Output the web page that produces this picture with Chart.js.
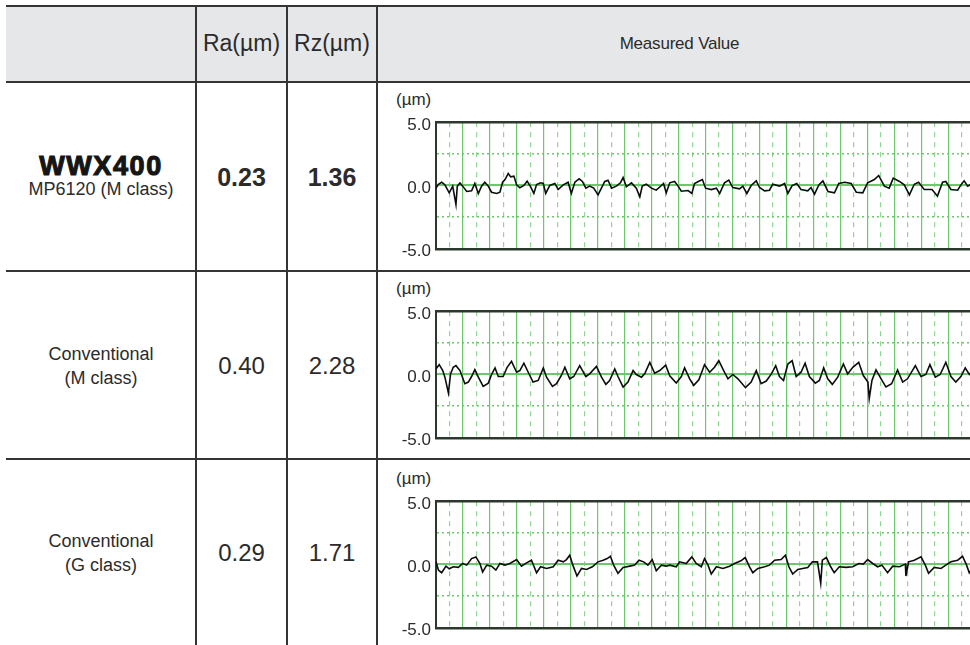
<!DOCTYPE html>
<html>
<head>
<meta charset="utf-8">
<script src="https://cdn.jsdelivr.net/npm/chart.js@4.4.1/dist/chart.umd.min.js"></script>
<style>
  html, body { margin:0; padding:0; background:#fff; }
  body { width:970px; height:645px; overflow:hidden; position:relative; font-family:"Liberation Sans", Arial, Helvetica, sans-serif; color:#2b2b2b; }
  .abs { position:absolute; }
  .hline { position:absolute; background:#353535; }
  .vline { position:absolute; background:#353535; width:2px; }
  .cell { position:absolute; display:flex; flex-direction:column; align-items:center; justify-content:center; text-align:center; }
  canvas { position:absolute; }
  .unit { position:absolute; font-size:17px; color:#2b2b2b; }
</style>
</head>
<body>
<script>
// ---------------- data ----------------
const headerLabels = ["", "Ra(\u00b5m)", "Rz(\u00b5m)", "Measured Value"];
const rowNames = ["WWX400", "Conventional", "Conventional"];
const rowSubNames = ["MP6120 (M class)", "(M class)", "(G class)"];
const raValues = ["0.23", "0.40", "0.29"];
const rzValues = ["1.36", "2.28", "1.71"];
const yTickLabels = [5, 0, -5];
const unitLabel = "(\u00b5m)";

// profile position (grid divisions) and height (µm)
const wwxPos = [0,0.09,0.21,0.33,0.49,0.62,0.74,0.79,0.89,0.99,
  1.14,1.32,1.44,1.57,1.69,1.81,1.94,2.06,2.25,2.37,
  2.47,2.56,2.68,2.77,2.89,2.99,3.11,3.26,3.38,3.48,
  3.63,3.73,3.88,3.98,4.07,4.22,4.41,4.53,4.72,4.90,
  5.02,5.15,5.31,5.43,5.56,5.70,5.85,6.01,6.14,6.26,
  6.38,6.51,6.69,6.84,6.94,7.06,7.25,7.43,7.56,7.65,
  7.80,7.99,8.17,8.36,8.44,8.54,8.67,8.85,8.98,9.10,
  9.35,9.49,9.59,9.75,9.88,10.0,10.21,10.40,10.52,10.70,
  10.86,11.01,11.26,11.38,11.53,11.69,11.88,12.0,12.19,12.37,
  12.49,12.74,12.93,13.05,13.21,13.38,13.54,13.79,13.91,14.04,
  14.20,14.35,14.54,14.78,14.94,15.16,15.40,15.59,15.83,16.01,
  16.26,16.42,16.63,16.81,16.96,17.19,17.37,17.56,17.74,17.90,
  18.11,18.40,18.60,18.79,18.91,19.10,19.35,19.47,19.59,19.72,
  19.85];
const wwxVal = [-0.2,0.1,0.26,0.05,-0.58,-0.05,-1.5,-0.05,0.2,-0.05,
  -0.47,-0.42,0.16,-0.63,-0.05,0.26,-0.05,-0.53,-0.63,-0.53,
  0.26,0.47,0.95,0.68,0.74,0.05,-0.18,0,0.34,0,
  -0.63,0.08,0.21,0.16,-0.63,0,0.16,-0.32,0.05,0.26,
  -0.63,0.26,0.53,0.32,-0.21,-0.05,-0.21,-0.74,-0.18,0.32,
  0.42,-0.21,-0.05,0.21,0.63,-0.1,0.21,-0.21,-0.89,-0.05,
  0.1,-0.21,-0.37,0,0.16,-0.58,0.21,0.32,-0.05,-0.45,
  -0.4,-0.63,0.16,0.34,0.47,-0.21,-0.32,-0.21,-0.63,0.21,
  0.42,-0.16,-0.26,-0.05,-0.63,0,0.37,-0.16,-0.42,-0.37,
  0.1,-0.05,0.16,-0.63,0,0.16,-0.32,-0.42,-0.16,-0.68,
  0.05,0.37,-0.47,-0.58,0.16,0.26,0.16,-0.53,-0.58,0.21,
  0.47,0.79,-0.05,-0.21,0.58,0.32,0.05,-0.74,0.1,0.26,
  -0.32,-0.32,-0.84,0.26,0.32,-0.32,-0.37,0.05,0.37,-0.05,
  0.1];

const convMPos = [0,0.12,0.25,0.33,0.46,0.54,0.64,0.74,0.89,1.07,
  1.20,1.32,1.44,1.57,1.75,1.94,2.06,2.19,2.31,2.49,
  2.64,2.80,2.99,3.11,3.26,3.42,3.60,3.79,3.98,4.10,
  4.32,4.47,4.65,4.78,4.96,5.11,5.33,5.56,5.70,5.95,
  6.14,6.30,6.44,6.63,6.75,6.94,7.12,7.31,7.43,7.62,
  7.74,7.93,8.11,8.30,8.52,8.67,8.91,9.10,9.22,9.41,
  9.56,9.75,9.96,10.15,10.33,10.49,10.67,10.83,11.01,11.20,
  11.48,11.69,11.88,12.06,12.25,12.44,12.60,12.74,12.89,13.05,
  13.21,13.36,13.54,13.69,13.85,14.07,14.22,14.38,14.53,14.70,
  14.90,15.11,15.27,15.46,15.68,15.85,16.02,16.07,16.17,16.32,
  16.51,16.69,16.90,17.12,17.31,17.49,17.78,17.99,18.17,18.32,
  18.52,18.70,18.91,19.10,19.28,19.47,19.63,19.78,19.90];
const convMVal = [0.44,0.78,0.31,-0.21,-1.46,0.05,0.57,0.70,0.31,-0.73,
  -0.6,-0.16,0.39,-0.21,-0.94,-0.68,0,0.52,-0.16,-0.16,
  0.57,1.04,0.18,0.31,0.89,0.18,-0.6,-0.47,0.52,-0.21,
  -0.94,-0.73,-0.08,0.57,-0.34,-0.16,0.70,-0.16,0.05,0.63,
  -0.21,-0.78,-0.47,0.44,-0.16,-0.99,-0.6,0.31,0,-0.21,
  0.05,0.96,0.1,0.31,0.74,-0.1,-0.68,-0.16,0.52,-0.34,
  -0.86,-0.42,0.78,0.18,0.57,1.09,0.31,-0.34,0,-0.34,
  -1.04,-0.6,0.31,-0.73,-0.52,0.05,0.70,-0.16,-0.47,0.83,
  1.09,-0.16,0.18,0.89,-0.16,-0.68,-0.47,0.52,-0.34,-0.78,
  -0.21,0.83,0.05,0.57,0.96,-0.08,-0.6,-1.9,-0.47,0.36,
  -0.34,-0.99,-0.73,0.36,-0.6,-0.34,0.70,-0.16,0,0.78,
  -0.21,0,0.96,-0.16,-0.6,-0.16,0.52,0,0.3];

const convGPos = [0,0.09,0.21,0.37,0.49,0.64,0.83,0.99,1.14,1.32,
  1.48,1.63,1.73,1.88,2.06,2.22,2.37,2.56,2.74,2.99,
  3.17,3.36,3.54,3.73,3.88,4.10,4.35,4.53,4.72,4.84,
  4.96,5.09,5.23,5.40,5.58,5.80,6.01,6.20,6.35,6.47,
  6.59,6.75,6.94,7.19,7.37,7.53,7.70,7.86,8.02,8.17,
  8.36,8.54,8.67,8.91,9.04,9.28,9.49,9.65,9.84,9.96,
  10.09,10.21,10.40,10.64,10.89,11.07,11.31,11.47,11.63,11.75,
  11.94,12.19,12.37,12.56,12.80,12.96,13.09,13.23,13.42,13.60,
  13.79,13.96,14.15,14.27,14.33,14.48,14.64,14.77,14.96,15.21,
  15.46,15.68,15.85,16.01,16.20,16.38,16.54,16.75,16.94,17.19,
  17.41,17.43,17.53,17.74,17.99,18.15,18.27,18.48,18.73,18.91,
  19.10,19.35,19.53,19.68,19.78,19.90];
const convGVal = [0.21,-0.44,-0.65,-0.13,-0.34,-0.18,-0.23,0.08,-0.05,0.47,
  0.6,0.08,-0.6,-0.05,-0.13,-0.44,0.08,-0.05,0.08,0.39,
  -0.13,0.13,0.34,-0.65,-0.18,-0.31,-0.18,0.34,0.21,0.39,
  0.73,-0.13,-0.91,-0.31,-0.39,-0.18,0.21,0.34,0.47,0.65,
  -0.05,-0.7,-0.23,-0.13,-0.05,0.34,0.21,-0.05,0.39,-0.49,
  -0.05,-0.13,-0.05,-0.18,0.21,0.08,0.6,0.08,-0.18,0.47,
  -0.05,-0.75,-0.18,-0.31,-0.13,0.08,0.29,0.55,-0.18,-0.65,
  -0.31,-0.18,-0.05,0.34,0.39,0.73,-0.18,-0.75,-0.39,-0.31,
  -0.23,0.21,0.21,-1.48,0.34,0.55,-0.18,-0.65,-0.18,-0.23,
  -0.18,0.08,0.03,0.39,0.08,-0.18,-0.05,-0.65,-0.13,-0.18,
  0.03,-0.91,0.21,0.34,0.6,-0.05,-0.7,-0.23,-0.31,-0.05,
  0.21,0.34,0.65,-0.05,-0.65,-0.3];

const profiles = [[wwxPos, wwxVal], [convMPos, convMVal], [convGPos, convGVal]];

// ---------------- layout ----------------
const FONT = '"Liberation Sans", Arial, Helvetica, sans-serif';
const colX = [6, 196, 287, 377, 982];
const rowY = [6, 82, 271, 459, 645];
const plotTop = [122, 311, 501];
const plotH = 127;

function add(el){ document.body.appendChild(el); return el; }
function div(cls, style, html){ const d=document.createElement('div'); d.className=cls; Object.assign(d.style, style); if(html!==undefined) d.innerHTML=html; return add(d); }

// header background
div('abs', {left:'6px', top:'6px', width:'964px', height:'76px', background:'#e6e7e8'});
// horizontal rules
div('hline', {left:'6px', top:'5px', width:'964px', height:'2px'});
div('hline', {left:'6px', top:'81px', width:'964px', height:'2px'});
div('hline', {left:'6px', top:'270px', width:'964px', height:'2px'});
div('hline', {left:'6px', top:'458px', width:'964px', height:'2px'});
// vertical rules
[196, 287, 377].forEach(x => div('vline', {left:(x-1)+'px', top:'5px', height:'640px'}));

// header texts
div('cell', {left:colX[1]+'px', top:'6px', width:(colX[2]-colX[1])+'px', height:'75px', fontSize:'23px'}, headerLabels[1]);
div('cell', {left:colX[2]+'px', top:'6px', width:(colX[3]-colX[2])+'px', height:'75px', fontSize:'23px'}, headerLabels[2]);
div('cell', {left:colX[3]+'px', top:'6px', width:(colX[4]-colX[3])+'px', height:'75px', fontSize:'17px', letterSpacing:'-0.2px'}, headerLabels[3]);

// row texts
for (let r=0; r<3; r++){
  const top = rowY[r+1]+1, h = rowY[r+2]-rowY[r+1]-1;
  let nameHtml;
  if (r===0){
    nameHtml = '<div style="font-family:\'Liberation Sans\',Arial,sans-serif;font-weight:900;font-size:27px;line-height:24px;color:#151515;letter-spacing:1.6px;-webkit-text-stroke:1.1px #151515">'+rowNames[r]+'</div>'+
               '<div style="font-size:18px;line-height:24px;margin-top:-1px">'+rowSubNames[r]+'</div>';
  } else {
    nameHtml = '<div style="font-size:18px;line-height:24px">'+rowNames[r]+'</div>'+
               '<div style="font-size:18px;line-height:24px">'+rowSubNames[r]+'</div>';
  }
  div('cell', {left:colX[0]+'px', top:top+'px', width:(colX[1]-colX[0])+'px', height:h+'px'}, nameHtml);
  const bold = r===0 ? 'bold' : 'normal';
  const fs = r===0 ? '25px' : '24px';
  div('cell', {left:colX[1]+'px', top:top+'px', width:(colX[2]-colX[1])+'px', height:h+'px', fontSize:fs, fontWeight:bold}, raValues[r]);
  div('cell', {left:colX[2]+'px', top:top+'px', width:(colX[3]-colX[2])+'px', height:h+'px', fontSize:fs, fontWeight:bold}, rzValues[r]);
  div('unit', {left:'396px', top:(plotTop[r]-32)+'px'}, unitLabel);
}

// ---------------- charts ----------------
const GREEN = '#6cc86c';
const GREEN_LIGHT = '#8fd78f';
const DARK = '#2c382c';

function isHalf(c){ return c.tick && Math.abs(c.tick.value - Math.round(c.tick.value)) > 1e-6; }

function makeChart(r){
  const cv = document.createElement('canvas');
  const padTop = 4, padBottom = 4;
  const w = 596, h = plotH + 40;
  cv.width = w; cv.height = h;
  cv.style.width = w + 'px'; cv.style.height = h + 'px';
  cv.style.left = '380px'; cv.style.top = (plotTop[r]-12)+'px';
  add(cv);
  const [xs, ys] = profiles[r];
  const data = xs.map((x,i)=>({x:x, y:ys[i]}));
  const chart = new Chart(cv, {
    type:'line',
    data:{ datasets:[{ data:data, borderColor:'#0c0c0c', borderWidth:1.6, pointRadius:0, tension:0, fill:false }] },
    options:{
      responsive:false, maintainAspectRatio:false, animation:false, devicePixelRatio:1,
      layout:{ padding:{ top:padTop, bottom:padBottom, left:0, right:0 } },
      plugins:{ legend:{display:false}, tooltip:{enabled:false}, title:{display:false} },
      scales:{
        x:{
          type:'linear', min:0, max:20,
          afterFit(s){ s.height = 0; },
          ticks:{ display:false, stepSize:0.5, maxTicksLimit:200, autoSkip:false },
          grid:{
            drawTicks:false,
            color:(c)=> isHalf(c) ? GREEN_LIGHT : GREEN,
            lineWidth:1.2
          },
          border:{ display:false, dash:(c)=> isHalf(c) ? [5,5] : [] }
        },
        y:{
          min:-5, max:5,
          afterFit(s){ s.width = 56; },
          ticks:{
            stepSize:2.5, autoSkip:false, padding:5, labelOffset:3,
            color:'#2b2b2b', font:{ family:FONT, size:17 },
            callback:(v)=> yTickLabels.includes(v) ? v.toFixed(1) : ''
          },
          grid:{
            drawTicks:false,
            color:(c)=>{ if(!c.tick) return GREEN; const v=c.tick.value; return Math.abs(v)===5 ? DARK : GREEN; },
            lineWidth:(c)=>{ if(!c.tick) return 1; const v=c.tick.value; return Math.abs(v)===5 ? 2.5 : (v===0 ? 2 : 1.5); }
          },
          border:{ display:true, color:DARK, width:2,
            dash:(c)=> (c.tick && Math.abs(c.tick.value)===2.5) ? [2,3] : [] }
        }
      }
    }
  });
  // size the canvas so the plot area is exactly plotH tall and starts at plotTop
  const ca = chart.chartArea;
  const newH = Math.round(h + (plotH - (ca.bottom - ca.top)));
  if (newH !== h) chart.resize(w, newH);
  cv.style.top = (plotTop[r] - chart.chartArea.top) + 'px';
}
for (let r=0; r<3; r++) makeChart(r);
</script>
</body>
</html>
